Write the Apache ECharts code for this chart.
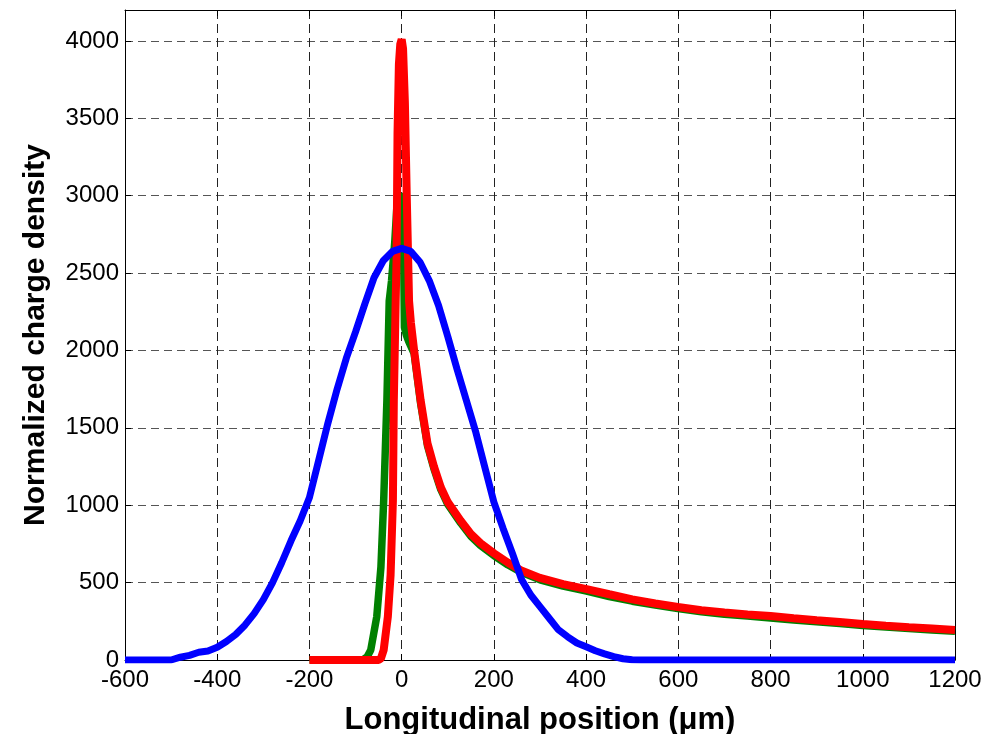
<!DOCTYPE html>
<html><head><meta charset="utf-8">
<script src="https://cdn.jsdelivr.net/npm/echarts/dist/echarts.min.js"></script>
<style>html,body{margin:0;padding:0;background:#fff}#c{width:998px;height:734px}</style>
</head><body><div id="c"></div>
<script>
// Blue (broad, Gaussian-like) profile
var blueX = [-600,-500,-480,-460,-440,-420,-400,-380,-360,-340,-320,-300,-280,-260,-240,-220,-200,-180,-160,-140,-120,-100,-80,-60,-40,-20,0,20,40,60,80,100,120,140,160,180,200,220,240,260,280,300,320,340,360,380,400,420,440,460,480,500,520,1200];
var blueY = [0,0,18,30,50,58,82,120,165,225,300,390,500,630,770,900,1050,1290,1530,1750,1950,2120,2300,2470,2580,2640,2660,2640,2570,2450,2290,2090,1880,1680,1480,1250,1020,850,690,520,420,345,270,195,150,110,85,60,40,22,8,2,0,0];
// Green profile
var greenX = [-200,-85,-75,-67,-54,-45,-39,-32,-27,-22,-15,-10,-3,2,4,6,10,15,27,41,56,70,85,100,128,150,171,200,230,258,300,350,401,450,500,550,599,650,700,750,800,850,900,950,1000,1050,1100,1150,1200];
var greenY = [0,0,20,65,280,600,1030,1680,2320,2450,2700,2950,3000,2990,2700,2150,2100,2060,1980,1660,1385,1235,1100,1005,885,800,740,675,615,568,518,478,445,410,380,355,332,312,296,284,272,259,247,235,223,213,203,194,185];
// Red profile
var redX = [-200,-50,-45,-39,-30,-24,-19,-17,-13,-11,-10,-9,-6,-3,0,3,7,11,14,16,20,27,41,56,70,85,100,128,150,171,200,230,258,300,350,401,450,500,550,599,650,700,750,800,850,900,950,1000,1050,1100,1150,1200];
var redY = [0,0,10,65,280,550,1030,1680,2320,2600,3000,3400,3850,3980,4010,3950,3600,3000,2600,2320,2180,2000,1680,1400,1250,1115,1020,900,815,755,690,630,580,530,490,458,425,392,365,342,322,307,294,284,270,257,245,233,222,212,203,194];
// Axis ticks
var xTicks = {min:-600, max:1200, step:200};
var yTicks = {min:0, max:4200, step:500, lastLabel:4000};

function pairs(xs, ys){ return xs.map(function(x,i){ return [x, ys[i]]; }); }

var font = 'Liberation Sans, Arial, Helvetica, sans-serif';
var chart = echarts.init(document.getElementById('c'), null, {renderer:'canvas'});
chart.setOption({
  animation:false,
  backgroundColor:'#fff',
  grid:{left:125, top:10, width:830, height:650, show:false, containLabel:false, outerBoundsMode:'none'},
  xAxis:[{
    type:'value', min:xTicks.min, max:xTicks.max, interval:xTicks.step, position:'bottom',
    name:'Longitudinal position (\u03bcm)', nameLocation:'middle', nameGap:45,
    nameTextStyle:{fontFamily:font, fontSize:31, fontWeight:'bold', color:'#000'},
    axisLine:{show:true, onZero:false, lineStyle:{color:'#000', width:1}},
    axisTick:{show:true, inside:true, length:6, lineStyle:{color:'#000'}},
    axisLabel:{fontFamily:font, fontSize:24, color:'#000', margin:8,
      formatter:function(v){ return String(v); }},
    splitLine:{show:true, lineStyle:{color:'#222', width:1, type:[9,5]}}
  },{
    type:'value', min:xTicks.min, max:xTicks.max, interval:xTicks.step, position:'top',
    axisLine:{show:true, onZero:false, lineStyle:{color:'#000', width:1}},
    axisTick:{show:true, inside:true, length:6, lineStyle:{color:'#000'}},
    axisLabel:{show:false}, splitLine:{show:false}
  }],
  yAxis:[{
    type:'value', min:yTicks.min, max:yTicks.max, interval:yTicks.step, position:'left',
    name:'Normalized charge density', nameLocation:'middle', nameGap:74,
    nameTextStyle:{fontFamily:font, fontSize:30, fontWeight:'bold', color:'#000'},
    axisLine:{show:true, onZero:false, lineStyle:{color:'#000', width:1}},
    axisTick:{show:true, inside:true, length:6, lineStyle:{color:'#000'}},
    axisLabel:{fontFamily:font, fontSize:24, color:'#000', margin:6,
      formatter:function(v){ return v > yTicks.lastLabel ? '' : String(v); }},
    splitLine:{show:true, lineStyle:{color:'#555', width:1.2, type:[8,5]}}
  },{
    type:'value', min:yTicks.min, max:yTicks.max, interval:yTicks.step, position:'right',
    axisLine:{show:true, onZero:false, lineStyle:{color:'#000', width:1}},
    axisTick:{show:true, inside:true, length:6, lineStyle:{color:'#000'}},
    axisLabel:{show:false}, splitLine:{show:false}
  }],
  series:[
    {type:'line', name:'green', data:pairs(greenX, greenY), showSymbol:false, z:3,
     lineStyle:{color:'#008000', width:7.5}, itemStyle:{color:'#008000'}},
    {type:'line', name:'red', data:pairs(redX, redY), showSymbol:false, z:4,
     lineStyle:{color:'#ff0000', width:8}, itemStyle:{color:'#ff0000'}},
    {type:'line', name:'blue', data:pairs(blueX, blueY), showSymbol:false, z:5,
     lineStyle:{color:'#0000ff', width:7}, itemStyle:{color:'#0000ff'}}
  ]
});
</script></body></html>
